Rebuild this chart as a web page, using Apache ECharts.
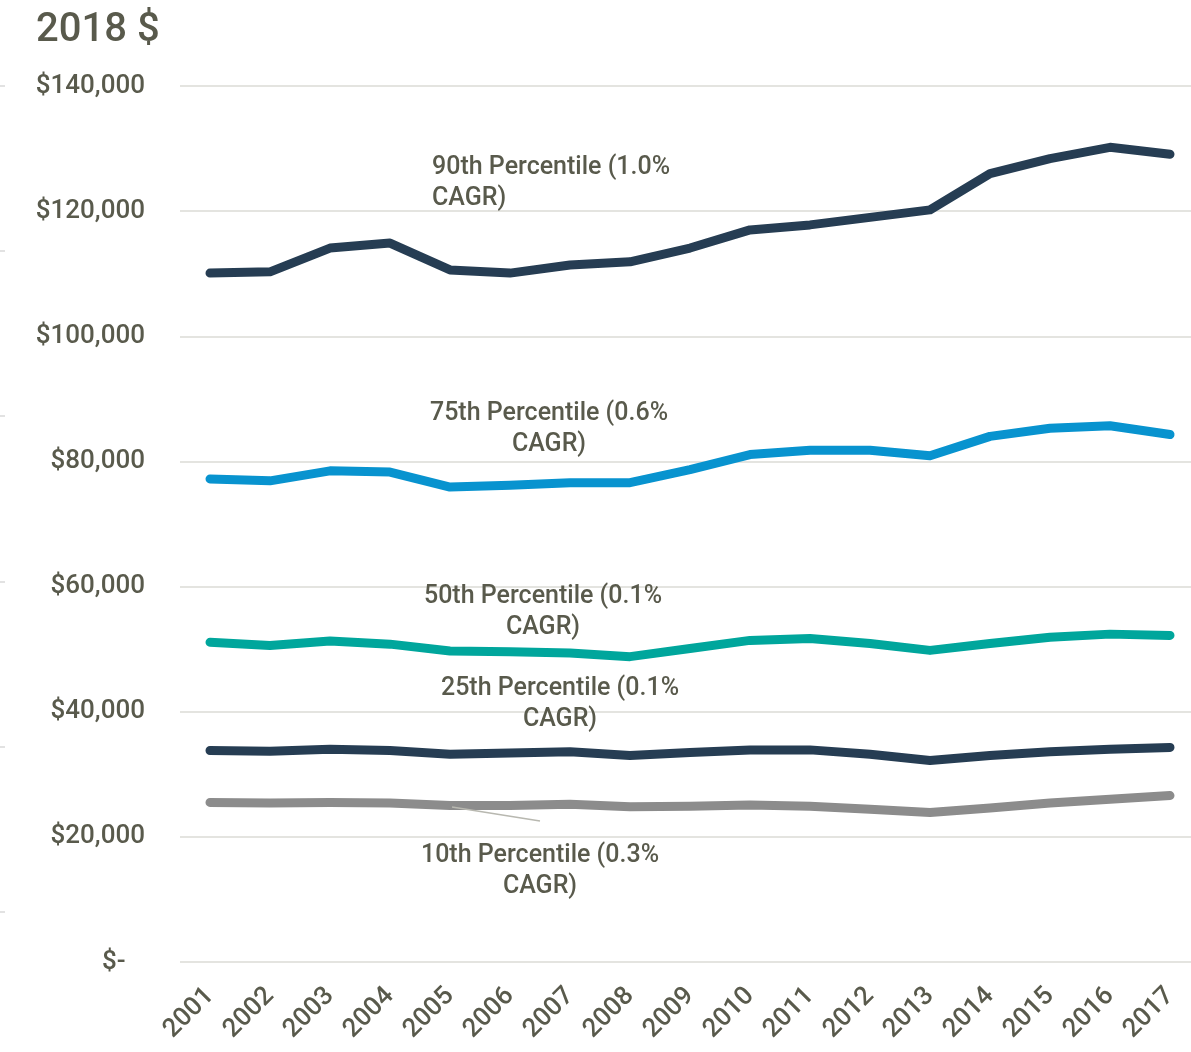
<!DOCTYPE html>
<html>
<head>
<meta charset="utf-8">
<script src="https://cdn.jsdelivr.net/npm/echarts@6/dist/echarts.min.js"></script>
<style>
html,body{margin:0;padding:0;background:#fff;overflow:hidden;}
#chart{width:1200px;height:1052px;}
</style>
</head>
<body>
<div id="chart"></div>
<script>
var years = ['2001','2002','2003','2004','2005','2006','2007','2008','2009','2010','2011','2012','2013','2014','2015','2016','2017'];
var p90 = [110100,110300,114100,114900,110600,110100,111400,111900,114100,117000,117800,119000,120200,126000,128400,130200,129100];
var p75 = [77200,76900,78500,78300,75900,76200,76600,76600,78700,81100,81800,81800,80900,84000,85300,85700,84300];
var p50 = [51100,50600,51300,50800,49700,49600,49400,48800,50100,51400,51700,50900,49800,50900,51900,52400,52200];
var p25 = [33800,33700,34000,33800,33200,33400,33600,33000,33500,33900,33900,33200,32200,33000,33600,34000,34300];
var p10 = [25500,25400,25500,25400,25000,25000,25200,24800,24900,25100,24900,24400,23900,24600,25400,26000,26600];
var seriesNames = ['90th Percentile','75th Percentile','50th Percentile','25th Percentile','10th Percentile'];
var labelTexts = ['90th Percentile (1.0%\nCAGR)','75th Percentile (0.6%\nCAGR)','50th Percentile (0.1%\nCAGR)','25th Percentile (0.1%\nCAGR)','10th Percentile (0.3%\nCAGR)'];
var yTicks = [0,20000,40000,60000,80000,100000,120000,140000];

var textColor = '#595a4c';
var fontFam = 'Roboto, "Noto Sans", sans-serif';
var colors = ['#263d53','#0893cf','#00a69c','#263d53','#8c8c8c'];
var allData = [p90,p75,p50,p25,p10];
// annotation anchor: [category, value, align, xOffset]
var anno = [
  ['2005',124400,'left',-18],
  ['2006',85100,'center',39],
  ['2006',55900,'center',33],
  ['2006',41200,'center',50],
  ['2006',14500,'center',30]
];

function fmt(v){
  if (v === 0) return '$-   ';
  return '$' + v.toLocaleString('en-US');
}

var chart = echarts.init(document.getElementById('chart'), null, {renderer:'canvas'});
var series = allData.map(function(d,i){
  return {
    name: seriesNames[i],
    type: 'line',
    data: d,
    symbol: 'none',
    z: 2 + (4-i),
    lineStyle: {color: colors[i], width: 9, cap: 'round', join: 'round'},
    markPoint: {
      symbol: 'circle', symbolSize: 0,
      data: [{coord: [anno[i][0], anno[i][1]]}],
      label: {
        show: true, formatter: labelTexts[i], position: 'inside',
        align: anno[i][2], verticalAlign: 'middle',
        offset: [anno[i][3], 0],
        color: textColor, fontFamily: fontFam, fontSize: 25, fontWeight: 500, lineHeight: 31
      }
    }
  };
});

chart.setOption({
  animation: false,
  backgroundColor: '#ffffff',
  title: {
    text: '2018 $', left: 31, top: 6,
    textStyle: {color: textColor, fontFamily: fontFam, fontSize: 40, fontWeight: 500}
  },
  grid: {left: 180, top: 86, width: 1020, height: 876},
  xAxis: {
    type: 'category', data: years, boundaryGap: true,
    axisLine: {show: false}, axisTick: {show: false},
    axisLabel: {rotate: 45, margin: 30, color: textColor, fontFamily: fontFam, fontSize: 26, fontWeight: 500, interval: 0}
  },
  yAxis: {
    type: 'value', min: 0, max: 140000, interval: 20000,
    axisLine: {show: false}, axisTick: {show: false},
    axisLabel: {margin: 35, color: textColor, fontFamily: fontFam, fontSize: 26, fontWeight: 500, formatter: fmt},
    splitLine: {lineStyle: {color: '#e4e4e0', width: 2}}
  },
  graphic: [
    {type:'line', shape:{x1:452,y1:807,x2:540,y2:821}, style:{stroke:'#b8b8b0', lineWidth:1.5}, z:20},
    {type:'line', shape:{x1:0,y1:86,x2:5,y2:86}, style:{stroke:'#d9d9d9', lineWidth:1.5}},
    {type:'line', shape:{x1:0,y1:251,x2:5,y2:251}, style:{stroke:'#d9d9d9', lineWidth:1.5}},
    {type:'line', shape:{x1:0,y1:416,x2:5,y2:416}, style:{stroke:'#d9d9d9', lineWidth:1.5}},
    {type:'line', shape:{x1:0,y1:582,x2:5,y2:582}, style:{stroke:'#d9d9d9', lineWidth:1.5}},
    {type:'line', shape:{x1:0,y1:747,x2:5,y2:747}, style:{stroke:'#d9d9d9', lineWidth:1.5}},
    {type:'line', shape:{x1:0,y1:912,x2:5,y2:912}, style:{stroke:'#d9d9d9', lineWidth:1.5}}
  ],
  series: series
});
</script>
</body>
</html>
